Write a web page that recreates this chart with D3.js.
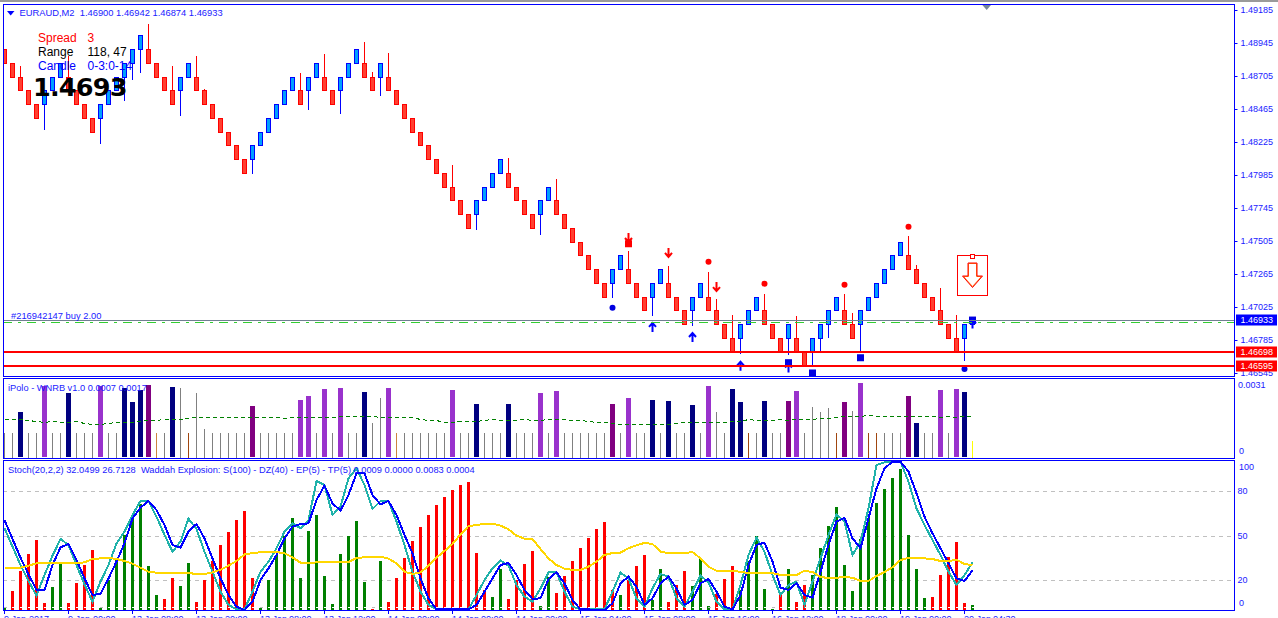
<!DOCTYPE html>
<html>
<head>
<meta charset="utf-8">
<title>EURAUD,M2</title>
<script src="https://cdn.jsdelivr.net/npm/d3@7"></script>
<style>
  html, body { margin: 0; padding: 0; background: #fff; overflow: hidden; }
  text { font-family: "Liberation Sans", Arial, sans-serif; white-space: pre; }
</style>
</head>
<body>
<div id="chart"></div>
<script>
// main chart, bricks
const opens = [
  1.489,1.488,1.487,1.486,1.485,1.485,1.486,1.487,1.487,1.486,
  1.485,1.484,1.484,1.485,1.486,1.487,1.488,1.489,1.489,1.488,
  1.487,1.486,1.486,1.487,1.487,1.486,1.485,1.484,1.483,1.482,
  1.481,1.481,1.482,1.483,1.484,1.485,1.486,1.486,1.486,1.487,
  1.487,1.486,1.486,1.487,1.488,1.488,1.487,1.487,1.487,1.486,
  1.485,1.484,1.483,1.482,1.481,1.480,1.479,1.478,1.477,1.477,
  1.478,1.479,1.480,1.480,1.479,1.478,1.477,1.477,1.478,1.478,
  1.477,1.476,1.475,1.474,1.473,1.472,1.472,1.473,1.473,1.472,
  1.471,1.471,1.472,1.472,1.471,1.470,1.470,1.471,1.471,1.470,
  1.469,1.468,1.468,1.469,1.470,1.470,1.469,1.468,1.468,1.468,
  1.467,1.467,1.468,1.469,1.470,1.470,1.469,1.469,1.470,1.471,
  1.472,1.473,1.474,1.474,1.473,1.472,1.471,1.470,1.469,1.468,
  1.468,1.469
];
const closes = [
  1.488,1.487,1.486,1.485,1.484,1.486,1.487,1.488,1.486,1.485,
  1.484,1.483,1.485,1.486,1.487,1.488,1.489,1.490,1.488,1.487,
  1.486,1.485,1.487,1.488,1.486,1.485,1.484,1.483,1.482,1.481,
  1.480,1.482,1.483,1.484,1.485,1.486,1.487,1.485,1.487,1.488,
  1.486,1.485,1.487,1.488,1.489,1.487,1.486,1.488,1.486,1.485,
  1.484,1.483,1.482,1.481,1.480,1.479,1.478,1.477,1.476,1.478,
  1.479,1.480,1.481,1.479,1.478,1.477,1.476,1.478,1.479,1.477,
  1.476,1.475,1.474,1.473,1.472,1.471,1.473,1.474,1.472,1.471,
  1.470,1.472,1.473,1.471,1.470,1.469,1.471,1.472,1.470,1.469,
  1.468,1.467,1.469,1.470,1.471,1.469,1.468,1.467,1.469,1.467,
  1.466,1.468,1.469,1.470,1.471,1.469,1.468,1.470,1.471,1.472,
  1.473,1.474,1.475,1.473,1.472,1.471,1.470,1.469,1.468,1.467,
  1.469,1.46933
];
// [candle, price] only where a wick sticks out of the body
const upperWicks = [
  [2,1.4878],[8,1.48853],[18,1.49085],[21,1.4878],[24,1.48853],[25,1.4861],[37,1.48727],
  [40,1.48867],[45,1.48955],[46,1.48736],[48,1.48872],[56,1.4806],[63,1.4811],[69,1.47958],
  [78,1.47435],[83,1.47325],[88,1.47282],[89,1.47085],[91,1.46969],[95,1.47122],[99,1.46962],
  [105,1.47122],[106,1.46984],[113,1.47544],[114,1.47333],[117,1.47165],[119,1.46969],[121,1.46942]
];
const lowerWicks = [
  [5,1.4831],[12,1.48208],[15,1.4852],[16,1.48678],[17,1.4873],[22,1.48416],[31,1.4799],
  [38,1.48455],[42,1.48426],[47,1.48557],[59,1.47582],[67,1.47546],[76,1.47088],[81,1.46962],
  [86,1.46889],[92,1.46681],[98,1.46673],[101,1.46593],[102,1.46705],[103,1.46797],[107,1.46705],
  [120,1.46635],[121,1.46874]
];
const priceTicks = [1.49185,1.48945,1.48705,1.48465,1.48225,1.47985,1.47745,1.47505,1.47265,1.47025,1.46785,1.46545];
const redDots = [[88,1.47354],[95,1.47195],[105,1.47187],[113,1.47609]];
const blueDots = [[76,1.4702],[120,1.46574]];
const redSquares = [[78,1.47485]];
const blueSquares = [[98,1.4662],[101,1.46545],[107,1.46656],[121,1.4693]];
const downArrows = [[78,1.47527],[83,1.47418],[89,1.4717]];
const upArrows = [[81,1.4688],[86,1.46807],[92,1.46598],[98,1.46585],[121,1.46905]];
const bidPrice = 1.46933, orderPrice = 1.46914, stopLevels = [1.46698, 1.46595];

// iPolo WNRB histogram: g gray, n navy, o orchid, p purple, c peru, b brown, y yellow
const wnrbKinds = ("ggnggoggng" + "ggoggnnnpc" + "gngbgggggg" + "gpgggggoog" + "ogoggnggoc" + "ggggggoggn" +
  "gggngggogo" + "ggggggpgog" + "gngnggngog" + "gnnbgnggpo" + "ggggbpgobb" + "gggpnggogo" + "ny").split("");
const wnrbValues = [
  .00106,.00106,.00195,.00106,.00106,.00306,.00106,.00106,.00276,.00106,
  .00106,.00106,.00306,.00106,.00106,.00297,.00238,.00287,.0031,.00106,
  .00106,.00302,.00297,.00106,.00276,.00123,.00106,.00106,.00106,.00106,
  .00106,.00221,.00106,.00106,.00106,.00106,.00106,.00246,.00263,.00106,
  .00293,.00106,.00297,.00106,.00106,.0028,.00149,.00255,.00297,.00106,
  .00106,.00106,.00106,.00106,.00106,.00106,.00289,.00106,.00106,.00229,
  .00106,.00106,.00106,.00229,.00106,.00106,.00106,.00276,.00106,.00285,
  .00106,.00106,.00106,.00106,.00106,.00106,.00229,.00106,.00255,.00106,
  .00106,.00246,.00106,.00242,.00106,.00106,.00225,.00106,.00306,.00195,
  .00106,.00293,.00238,.00106,.00106,.00242,.00106,.00106,.00242,.00285,
  .00106,.00217,.00195,.00212,.00106,.00238,.002,.00318,.00106,.00106,
  .00106,.00106,.00106,.00263,.00149,.00106,.00106,.00289,.00106,.00293,
  .0028,.00072
];
const wnrbSignal = [
  .00164,.00164,.00164,.00161,.00158,.00154,.00157,.00153,.00151,.00156,
  .00147,.00143,.00143,.0015,.00151,.00153,.00154,.00156,.00161,.00163,
  .00164,.00164,.00165,.00171,.00173,.00176,.00176,.00176,.00176,.00174,
  .00173,.00173,.00173,.00173,.00173,.0017,.00173,.00174,.00176,.00176,
  .00176,.00176,.00177,.00177,.00177,.00177,.00177,.00173,.00173,.00173,
  .00173,.00173,.00167,.0016,.0016,.00154,.00153,.00157,.00158,.00158,
  .00163,.00164,.00161,.00161,.00163,.00164,.00163,.00163,.00164,.00164,
  .00164,.00161,.00161,.00158,.00153,.00151,.00147,.00146,.00144,.00144,
  .00143,.00144,.00146,.00146,.0015,.00151,.00151,.00151,.00151,.00153,
  .00154,.00156,.00158,.00164,.00163,.00161,.00161,.00164,.0016,.00164,
  .00164,.00164,.00168,.00171,.00176,.00177,.0018,.0018,.00184,.0018,
  .0018,.00178,.00177,.00177,.00178,.00177,.00177,.00173,.0018,.00173,
  .00178,.0018
];
const wnrbTicks = [0.0031, 0];

// Stoch + Waddah panel. waddah: positive green, negative red
const stochMain = [
  55.1,42.7,30.3,19.6,9.7,23.6,36.6,47.9,43.8,30.3,
  17.3,5.6,19.1,30.3,44.9,52.8,64,73.5,73.5,62.9,
  50.6,39.3,46.1,61.6,54.6,39.3,25.8,12.4,3.4,.4,
  .4,12.4,25.8,32.6,41.6,52.8,58.4,55.1,60.7,87,
  84.3,64,69.7,88.8,95.5,84.3,68.1,73.5,73.5,59.6,
  43.8,25.8,12.4,3.4,.4,.4,.4,.4,.4,10.1,
  20.2,28.1,33.3,29.9,16.9,9,5.6,14.6,25.4,25.4,
  12.4,2.2,.4,.4,.4,.4,12.4,25.2,21.3,7.9,
  2.2,14.6,24.3,22.5,7.9,2.2,12.4,23.1,18.7,5.6,
  .4,.4,16.9,37.1,48.8,39.3,23.6,10.1,16.9,19.1,
  3.4,19.1,34.8,50.6,64.5,59.6,37.1,46.1,68.5,97.8,
  99.6,100,100,86.5,68.5,57.3,47.2,37.1,25.8,16.9,
  23.6,32.05
];
const stochSignal = [
  60.7,47.9,35.3,24,13.5,13.5,30.3,42.2,44.5,33.7,
  21.3,10.1,10.8,21.3,32.6,44.9,61.8,69,73.5,67.4,
  57.3,43.8,42,52.8,58,48.3,34.8,21.3,10.1,2.2,
  0,5.6,20.2,28.1,37.1,48.3,56.2,58,58.4,74.2,
  83.8,71.9,67,77.5,92.1,92.1,77.5,71.2,73.5,64,
  50.6,38.2,21.3,7.9,.4,.4,.4,.4,.4,3.4,
  12.4,21.3,30.3,31.7,23.6,13.5,7.4,7.9,20.9,25.4,
  18,6.7,.4,.4,0,0,4.5,18,22.5,15.7,
  3.4,7.9,18,22.5,14.6,3.4,6.7,18,20.9,12.4,
  2.2,.4,10.1,30.3,43.8,45.4,32.6,15.1,13.5,18,
  10.1,8.3,25.8,43.8,59.6,62.2,48.3,41.6,61.8,82,
  95.5,100,100,93.3,78.7,62.9,51.7,41.6,31.5,21.3,
  19.6,26.71
];
const waddah = [
  2.2,-12.8,-26.3,-37.8,-47.2,-4.7,15.5,31.5,-4.7,-18.2,
  -30.3,-40.4,1.1,20.2,34.8,50.6,61.8,71.5,29.7,10.1,
  -7.4,-21.6,16.2,31.7,-5.4,-20.2,-33,-43.8,-52.6,-60.7,
  -66.7,-21.6,1.1,20.2,37.1,49.9,62,21.6,53.3,64,
  22.9,4,37.8,49.9,60,18.9,-.7,33,-5.4,-21.6,
  -35.1,-46.5,-56,-64,-70.8,-76.2,-80.9,-84.3,-86.3,-38.4,
  -13.5,8.8,27.6,-7.4,-20.2,-31,-39.8,2.5,22.2,-11.5,
  -22.9,-33,-41.8,-48.5,-54.6,-59.3,-13.5,10.1,-20.2,-29.7,
  -37.1,6.7,27.6,-5.4,-16.9,-26.3,16.2,35.1,2.5,-10.8,
  -20.9,-29.7,13.5,33,49.9,14.2,.7,-12.1,27.6,-5.4,
  -16.9,23.6,41.8,56.6,69.4,30.3,12.8,47.9,62,72.1,
  81.6,89,95.1,50.6,27.6,8.1,-8.8,-23.6,-35.7,-45.8,
  -4.7,3.4
];
const explosion = [
  28.5,28.5,28.5,29.9,31.5,31.7,31.7,31.7,31.7,31.7,
  32.1,34.4,34.8,35.1,34.4,33,31.2,28.5,25.8,25.2,
  24.9,24.9,24.9,24.9,24.3,24.3,25.4,27.2,29.9,33,
  37.5,38.4,38.9,39.3,39.1,38.2,35.5,31.9,31.7,32.1,
  32.4,32.4,32.4,32.4,35.1,35.5,36,36,34.6,31.5,
  25.8,24.3,25.4,29.7,35.3,39.8,44.5,51,56.6,57.3,
  58,58.2,56.9,54.4,50.1,48.1,47.9,41.1,34.8,30.3,
  27.9,27,27,29.2,32.6,37.1,38.4,38.7,41.6,43.6,
  45.2,44.5,39.3,38.4,38.4,38.4,39.1,34.8,29.2,26.5,
  26.3,26.3,25.8,24.9,24.9,24.9,24.9,23.6,23.6,23.6,
  26.5,25.6,22.2,21.6,21.8,22.2,21.8,19.6,19.6,22.9,
  25.6,28.8,33.7,35.1,35.3,34.8,34.4,33,33,33.9,
  31,30.3
];
const stochGrid = [80, 50, 20];
const stochTicks = [100, 80, 50, 20, 0];

// time axis, one label every 8 candles
const timeLabels = ["9 Jan 2017","9 Jan 00:00","13 Jan 08:00","13 Jan 20:00","13 Jan 08:00","13 Jan 12:00","14 Jan 00:00","14 Jan 00:00",
  "14 Jan 20:00","15 Jan 04:00","15 Jan 08:00","15 Jan 16:00","16 Jan 12:00","18 Jan 00:00","19 Jan 00:00","20 Jan 04:30"];

const BLUE = "#0000ff", RED = "#ff0000", TEXT_BLUE = "#1a1aff";
const W = 1278, H = 618, left = 3, right = 1235;
const main = { top: 4, bottom: 376 }, wnrbPanel = { top: 378, bottom: 458 }, stochPanel = { top: 460, bottom: 610 };

const svg = d3.select("#chart").append("svg")
  .attr("width", W).attr("height", H)
  .style("display", "block");

svg.append("rect").attr("width", W).attr("height", 2).attr("fill", "#9a9a9a");

const x = d3.scaleLinear().domain([0, 121]).range([4.5, 972.5]);
const yPrice = d3.scaleLinear().domain([1.46545, 1.49185]).range([373, 10]);
const yWnrb = d3.scaleLinear().domain([0, 0.0031]).range([wnrbPanel.bottom, 385]);
const yStoch = d3.scaleLinear().domain([0, 100]).range([stochPanel.bottom, 461.67]);
const snap = v => Math.round(v) + 0.5;

const defs = svg.append("defs");
[["clipMain", main], ["clipWnrb", wnrbPanel], ["clipStoch", stochPanel]].forEach(([id, p]) => {
  defs.append("clipPath").attr("id", id).append("rect")
    .attr("x", left).attr("y", p.top).attr("width", right - left).attr("height", p.bottom - p.top);
});

// ---------- main panel
const gMain = svg.append("g").attr("clip-path", "url(#clipMain)");
const candles = opens.map((o, i) => {
  const c = closes[i];
  const hi = upperWicks.find(w => w[0] === i);
  const lo = lowerWicks.find(w => w[0] === i);
  return { i, o, c, h: hi ? hi[1] : Math.max(o, c), l: lo ? lo[1] : Math.min(o, c) };
});

gMain.selectAll(".wick").data(candles).enter().append("line")
  .attr("x1", d => x(d.i)).attr("x2", d => x(d.i))
  .attr("y1", d => yPrice(d.h)).attr("y2", d => yPrice(d.l))
  .attr("stroke", d => d.c > d.o ? BLUE : RED)
  .attr("shape-rendering", "crispEdges");

gMain.selectAll(".body").data(candles).enter().append("rect")
  .attr("x", d => x(d.i) - 2)
  .attr("width", 4)
  .attr("y", d => snap(yPrice(Math.max(d.o, d.c))))
  .attr("height", d => snap(yPrice(Math.min(d.o, d.c))) - snap(yPrice(Math.max(d.o, d.c))))
  .attr("fill", d => d.c > d.o ? "#00a0ff" : "#ff4030")
  .attr("stroke", d => d.c > d.o ? BLUE : RED)
  .attr("shape-rendering", "crispEdges");

// buy signals and exits
gMain.selectAll(".rdot").data(redDots).enter().append("circle")
  .attr("cx", d => x(d[0])).attr("cy", d => yPrice(d[1])).attr("r", 3).attr("fill", RED);
gMain.selectAll(".bdot").data(blueDots).enter().append("circle")
  .attr("cx", d => x(d[0])).attr("cy", d => yPrice(d[1])).attr("r", 3).attr("fill", "#0000e0");
gMain.selectAll(".rsq").data(redSquares).enter().append("rect")
  .attr("x", d => x(d[0]) - 3.5).attr("y", d => yPrice(d[1]) - 3.5).attr("width", 7).attr("height", 7).attr("fill", RED);
gMain.selectAll(".bsq").data(blueSquares).enter().append("rect")
  .attr("x", d => x(d[0]) - 3.5).attr("y", d => yPrice(d[1]) - 3.5).attr("width", 7).attr("height", 7).attr("fill", "#0000e0");
gMain.selectAll(".darrow").data(downArrows).enter().append("path")
  .attr("transform", d => `translate(${x(d[0])},${yPrice(d[1])})`)
  .attr("d", "M0,-5V4M-3.5,0L0,4L3.5,0")
  .attr("fill", "none").attr("stroke", RED).attr("stroke-width", 2);
gMain.selectAll(".uarrow").data(upArrows).enter().append("path")
  .attr("transform", d => `translate(${x(d[0])},${yPrice(d[1])})`)
  .attr("d", "M0,5V-4M-3.5,0L0,-4L3.5,0")
  .attr("fill", "none").attr("stroke", BLUE).attr("stroke-width", 2);

// level lines
gMain.append("line").attr("x1", left).attr("x2", right)
  .attr("y1", snap(yPrice(bidPrice))).attr("y2", snap(yPrice(bidPrice)))
  .attr("stroke", "#708090").attr("shape-rendering", "crispEdges");
gMain.append("line").attr("x1", left).attr("x2", right)
  .attr("y1", snap(yPrice(orderPrice))).attr("y2", snap(yPrice(orderPrice)))
  .attr("stroke", "#32cd32").attr("stroke-dasharray", "9 6 3 6").attr("shape-rendering", "crispEdges");
gMain.selectAll(".stop").data(stopLevels).enter().append("line")
  .attr("x1", left + 1).attr("x2", right)
  .attr("y1", d => yPrice(d)).attr("y2", d => yPrice(d))
  .attr("stroke", RED).attr("stroke-width", 2).attr("shape-rendering", "crispEdges");

// sell arrow object next to the last candle
const box = svg.append("g").attr("transform", `translate(${x(121)},275.5)`);
box.append("rect").attr("x", -15).attr("y", -20).attr("width", 30).attr("height", 40)
  .attr("fill", "#fff").attr("stroke", RED).attr("shape-rendering", "crispEdges");
box.append("rect").attr("x", -2).attr("y", -21).attr("width", 4).attr("height", 4)
  .attr("fill", "#fff").attr("stroke", RED).attr("shape-rendering", "crispEdges");
box.append("path").attr("d", "M-4,-12H4V1H9L0,11L-9,1H-4Z")
  .attr("fill", "#fff").attr("stroke", "#ff7a10").attr("stroke-width", 1);
box.append("path").attr("d", "M-4.5,-12.5H4.5V0.5H10L0,12L-10,0.5H-4.5Z")
  .attr("fill", "none").attr("stroke", RED).attr("stroke-width", 1);

// header and overlay text
svg.append("path").attr("d", "M7,11H14.5L10.7,15.5Z").attr("fill", BLUE);
svg.append("path").attr("d", "M982.3,5H991L986.7,10Z").attr("fill", "#778899");
svg.append("text").attr("x", 19.5).attr("y", 16).attr("font-size", 9.35).attr("fill", TEXT_BLUE)
  .text("EURAUD,M2  1.46900 1.46942 1.46874 1.46933");
svg.append("text").attr("x", 11).attr("y", 319).attr("font-size", 9.35).attr("fill", TEXT_BLUE)
  .text("#216942147 buy 2.00");

const infoRows = [["Spread", "3", RED, 41.5], ["Range", "118, 47", "#000", 56], ["Candle", "0-3:0-14", BLUE, 70]];
infoRows.forEach(r => {
  svg.append("text").attr("x", 38).attr("y", r[3]).attr("font-size", 12).attr("fill", r[2]).text(r[0]);
  svg.append("text").attr("x", 87.5).attr("y", r[3]).attr("font-size", 12).attr("fill", r[2]).text(r[1]);
});
svg.append("text").attr("x", 33).attr("y", 96)
  .style("font-family", "'DejaVu Sans'").style("font-weight", "bold").style("letter-spacing", "-0.8px")
  .attr("font-size", 25.5).attr("fill", "#000").text("1.4693");

// ---------- WNRB panel
const gWnrb = svg.append("g").attr("clip-path", "url(#clipWnrb)");
const wnrbColor = { g: "#808080", n: "#000080", o: "#9932cc", p: "#800080", c: "#cd853f", b: "#a0460f", y: "#ffff00" };
const isWide = k => k === "n" || k === "o" || k === "p";
gWnrb.selectAll(".wnrb").data(wnrbValues).enter().append("rect")
  .attr("x", (d, i) => isWide(wnrbKinds[i]) ? x(i) - 2.5 : x(i) - 0.5)
  .attr("width", (d, i) => isWide(wnrbKinds[i]) ? 5 : 1)
  .attr("y", d => Math.round(yWnrb(d)))
  .attr("height", (d, i) => wnrbPanel.bottom - Math.round(yWnrb(d)) - (isWide(wnrbKinds[i]) ? 1 : 0))
  .attr("fill", (d, i) => wnrbColor[wnrbKinds[i]])
  .attr("shape-rendering", "crispEdges");
gWnrb.append("path").datum(wnrbSignal)
  .attr("d", d3.line().x((d, i) => x(i)).y(d => Math.round(yWnrb(d)) + 0.5))
  .attr("fill", "none").attr("stroke", "#008000").attr("stroke-dasharray", "4 3")
  .attr("shape-rendering", "crispEdges");
svg.append("text").attr("x", 8).attr("y", 391).attr("font-size", 9.25).attr("fill", TEXT_BLUE)
  .text("iPolo - WNRB v1.0 0.0007 0.0017");

// ---------- Stoch / Waddah panel
const gStoch = svg.append("g").attr("clip-path", "url(#clipStoch)");
gStoch.selectAll(".grid").data(stochGrid).enter().append("line")
  .attr("x1", left).attr("x2", right)
  .attr("y1", d => snap(yStoch(d))).attr("y2", d => snap(yStoch(d)))
  .attr("stroke", "#c0c0c0").attr("stroke-dasharray", "4 4").attr("shape-rendering", "crispEdges");
gStoch.selectAll(".bar").data(waddah).enter().append("rect")
  .attr("x", (d, i) => x(i) - 1.5).attr("width", 3)
  .attr("y", d => yStoch(Math.abs(d)))
  .attr("height", d => stochPanel.bottom - yStoch(Math.abs(d)))
  .attr("fill", d => d > 0 ? "#008000" : RED)
  .attr("shape-rendering", "crispEdges");
// dead zone dashes near the foot of the bars
gStoch.selectAll(".dz").data(waddah).enter().append("line")
  .attr("x1", (d, i) => x(i) - 1).attr("x2", (d, i) => x(i) + 2)
  .attr("y1", 607.5).attr("y2", 607.5)
  .attr("stroke", d => Math.abs(d) > 3 ? "#fff" : "#bbb")
  .attr("shape-rendering", "crispEdges");

const stochLine = d3.line().x((d, i) => x(i)).y(d => yStoch(d));
[[stochMain, "#20b2aa"], [stochSignal, BLUE], [explosion, "#ffd700"]].forEach(([vals, col]) => {
  gStoch.append("path").datum(vals).attr("d", stochLine)
    .attr("fill", "none").attr("stroke", col).attr("stroke-width", 2)
    .attr("shape-rendering", "crispEdges");
});
svg.append("text").attr("x", 8).attr("y", 473).attr("font-size", 9.27).attr("fill", TEXT_BLUE)
  .text("Stoch(20,2,2) 32.0499 26.7128  Waddah Explosion: S(100) - DZ(40) - EP(5) - TP(5) 0.0009 0.0000 0.0083 0.0004");

// ---------- panel frames
[main, wnrbPanel, stochPanel].forEach(p => {
  svg.append("rect").attr("x", left + 0.5).attr("y", p.top + 0.5)
    .attr("width", right - left - 1).attr("height", p.bottom - p.top)
    .attr("fill", "none").attr("stroke", BLUE).attr("shape-rendering", "crispEdges");
});

// ---------- right axes
const axisG = svg.append("g").attr("transform", `translate(${right - 0.5},0)`)
  .call(d3.axisRight(yPrice).tickValues(priceTicks).tickFormat(d3.format(".5f")).tickSize(3).tickPadding(3));
axisG.select(".domain").remove();
axisG.selectAll("line").attr("stroke", BLUE);
axisG.selectAll("text").attr("fill", TEXT_BLUE).attr("font-size", 9).style("font-family", "'Liberation Sans'");

const clampLabel = (y, p) => Math.max(p.top + 7, Math.min(p.bottom - 7, y));
wnrbTicks.forEach(t => {
  svg.append("text").attr("x", t === 0 ? 1239 : 1238).attr("y", clampLabel(yWnrb(t), wnrbPanel)).attr("dy", "0.35em")
    .attr("font-size", 9).attr("fill", TEXT_BLUE).text(t === 0 ? "0" : t.toFixed(4));
});
stochTicks.forEach(t => {
  svg.append("text").attr("x", (t === 0 || t === 100) ? 1239 : 1237.5).attr("y", clampLabel(yStoch(t), stochPanel)).attr("dy", "0.35em")
    .attr("font-size", 9).attr("fill", TEXT_BLUE).text(t);
});

// price tags
[[bidPrice, BLUE], [stopLevels[0], RED], [stopLevels[1], RED]].forEach(([p, col]) => {
  const cy = Math.round(yPrice(p));
  svg.append("rect").attr("x", 1236).attr("y", cy - 5.5).attr("width", 41).attr("height", 11).attr("fill", col);
  svg.append("text").attr("x", 1240.5).attr("y", cy).attr("dy", "0.35em")
    .attr("font-size", 9).attr("fill", "#fff").text(p.toFixed(5));
});

// ---------- time axis, cut by the window edge
timeLabels.forEach((t, k) => {
  const tx = x(k * 8) - 0.5;
  svg.append("line").attr("x1", tx + 0.5).attr("x2", tx + 0.5).attr("y1", 610).attr("y2", 614)
    .attr("stroke", BLUE).attr("shape-rendering", "crispEdges");
  const parts = t.split(" ");
  svg.append("text").attr("x", tx).attr("y", 622).attr("font-size", 9).attr("fill", TEXT_BLUE)
    .text(parts[0] + " " + parts[1]);
  svg.append("text").attr("x", tx + (parts[0].length > 1 ? 29 : 25)).attr("y", 622).attr("font-size", 9).attr("fill", TEXT_BLUE)
    .text(parts[2]);
});
</script>
</body>
</html>
